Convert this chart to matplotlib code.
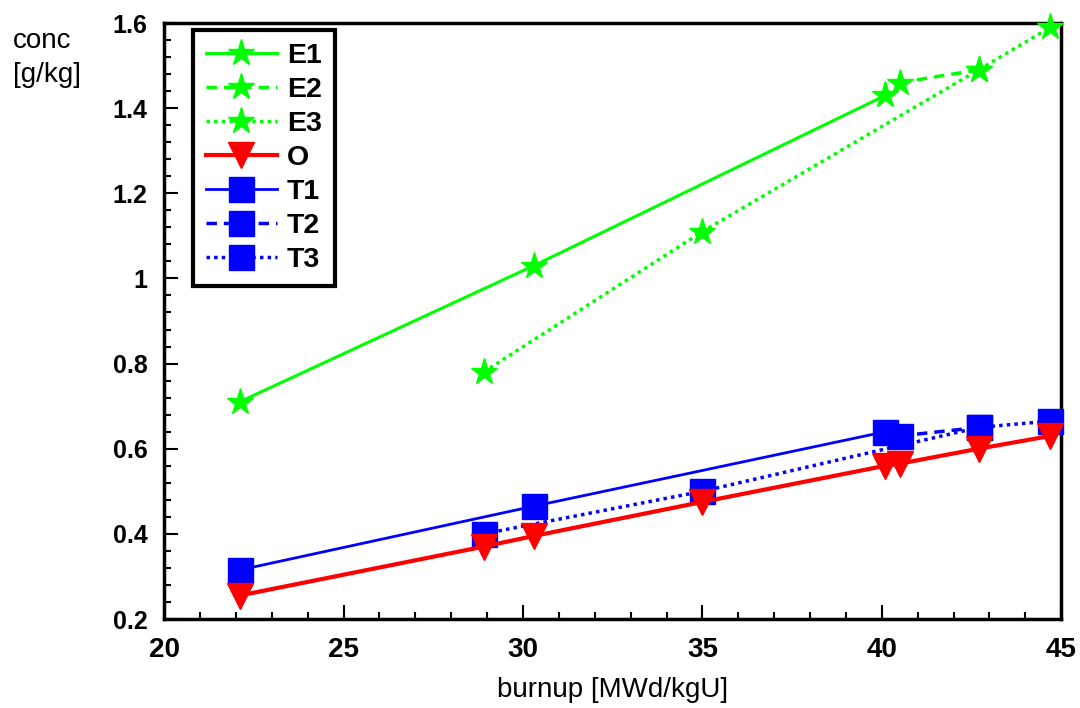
import matplotlib
matplotlib.use("Agg")
import matplotlib.pyplot as plt
from matplotlib.ticker import MultipleLocator

plt.rcParams['font.family'] = ['Liberation Sans', 'DejaVu Sans']

# burnup [MWd/kgU] and concentration [g/kg] per series
e1_x = [22.1, 30.3, 40.1]
e1_y = [0.71, 1.03, 1.43]
e2_x = [40.5, 42.7]
e2_y = [1.46, 1.49]
e3_x = [28.9, 35.0, 42.7, 44.7]
e3_y = [0.78, 1.11, 1.49, 1.59]
o_x = [22.1, 28.9, 30.3, 35.0, 40.1, 40.5, 42.7, 44.7]
o_y = [0.255, 0.37, 0.395, 0.475, 0.56, 0.565, 0.60, 0.63]
t1_x = [22.1, 30.3, 40.1]
t1_y = [0.315, 0.465, 0.64]
t2_x = [40.5, 42.7]
t2_y = [0.63, 0.65]
t3_x = [28.9, 35.0, 42.7, 44.7]
t3_y = [0.40, 0.50, 0.65, 0.665]

yticks = [0.2, 0.4, 0.6, 0.8, 1.0, 1.2, 1.4, 1.6]
yticklabels = ['0.2', '0.4', '0.6', '0.8', '1', '1.2', '1.4', '1.6']

green = '#00ff00'
red = '#ff0000'
blue = '#0000ff'
dotted = (0, (1, 1.2))
dashed = (0, (3, 2))

fig = plt.figure(figsize=(10.8, 7.08), dpi=100)
ax = fig.add_axes([0.152, 0.1257, 0.8306, 0.8418])

ax.plot(e1_x, e1_y, color=green, lw=2.2, ls='-', marker='*', ms=20, label='E1', zorder=5, clip_on=False)
ax.plot(e2_x, e2_y, color=green, lw=2.5, ls=dashed, marker='*', ms=20, label='E2', zorder=5, clip_on=False)
ax.plot(e3_x, e3_y, color=green, lw=2.5, ls=dotted, marker='*', ms=20, label='E3', zorder=5, clip_on=False)
ax.plot(o_x, o_y, color=red, lw=3, ls='-', marker='v', ms=19, label='O', zorder=4, clip_on=False)
ax.plot(t1_x, t1_y, color=blue, lw=2, ls='-', marker='s', ms=18, label='T1', zorder=3, clip_on=False)
ax.plot(t2_x, t2_y, color=blue, lw=2.5, ls=dashed, marker='s', ms=18, label='T2', zorder=3, clip_on=False)
ax.plot(t3_x, t3_y, color=blue, lw=2.5, ls=dotted, marker='s', ms=18, label='T3', zorder=3, clip_on=False)

ax.set_xlim(20, 45)
ax.set_ylim(0.2, 1.6)
ax.xaxis.set_major_locator(MultipleLocator(5))
ax.xaxis.set_minor_locator(MultipleLocator(1))
ax.yaxis.set_minor_locator(MultipleLocator(0.04))
ax.set_yticks(yticks)
ax.set_yticklabels(yticklabels)

for s in ax.spines.values():
    s.set_linewidth(2.5)

ax.tick_params(which='both', direction='in', top=False, right=False, width=1.5)
ax.tick_params(which='major', length=10)
ax.tick_params(which='minor', length=5)
ax.tick_params(axis='y', which='major', pad=12, labelsize=18)
ax.tick_params(axis='x', which='major', pad=13, labelsize=20)
for lab in ax.get_xticklabels() + ax.get_yticklabels():
    lab.set_fontweight('bold')

fig.text(0.567, 0.0155, 'burnup [MWd/kgU]', fontsize=20, ha='center', va='baseline')
fig.text(0.012, 1 - 48 / 708, 'conc', fontsize=20, ha='left', va='baseline')
fig.text(0.012, 1 - 82 / 708, '[g/kg]', fontsize=20, ha='left', va='baseline')

leg = ax.legend(loc='upper left', bbox_to_anchor=(0.032, 0.988), borderaxespad=0,
                prop={'size': 20.5, 'weight': 'bold'}, frameon=True, fancybox=False,
                handlelength=2.5, handletextpad=0.35, labelspacing=0.28,
                borderpad=0.45)
leg.get_frame().set_edgecolor('black')
leg.get_frame().set_linewidth(3)
leg.get_frame().set_alpha(1)
leg.set_zorder(10)

fig.savefig('out.png', dpi=100)
